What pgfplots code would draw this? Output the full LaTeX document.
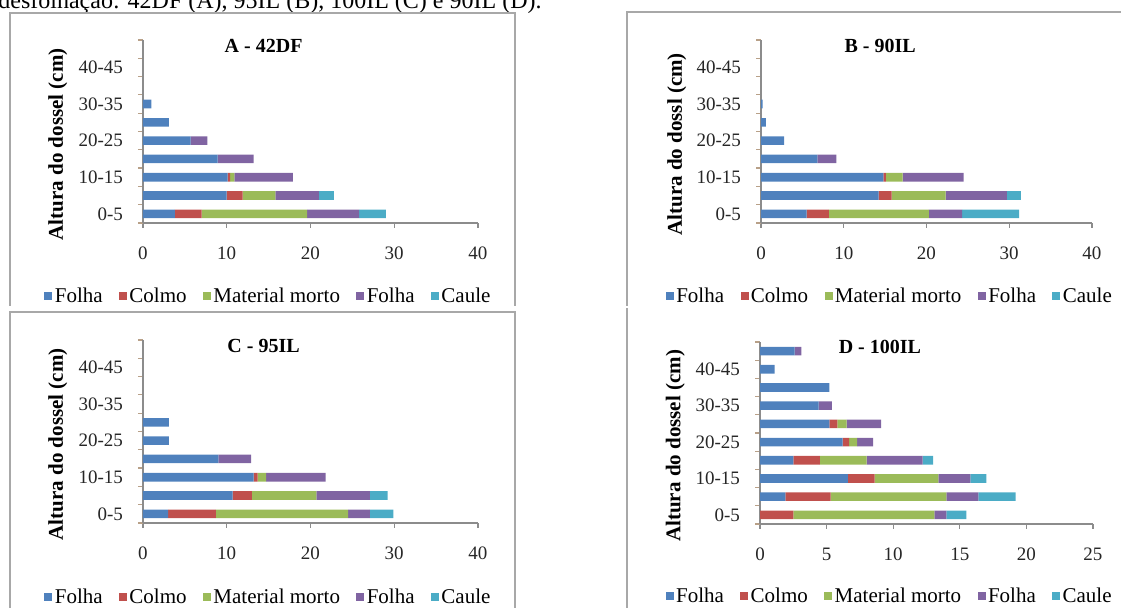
\documentclass[border=0pt]{standalone}
\usepackage{fontspec}
\setmainfont{Liberation Serif}
\usepackage{pgfplots}
\pgfplotsset{compat=1.18}
\usepackage{pgfplotstable}

\definecolor{cF}{HTML}{4F81BD}
\definecolor{cC}{HTML}{C0504D}
\definecolor{cM}{HTML}{9BBB59}
\definecolor{cP}{HTML}{8064A2}
\definecolor{cK}{HTML}{4BACC6}
\definecolor{axgray}{HTML}{8C8C8C}
\definecolor{tickc}{HTML}{B8A088}
\definecolor{framec}{HTML}{A8A8A8}

% y: 0=0-5, 1=5-10, ..., 9=45-50
\pgfplotstableread{
y f c m p k
0 3.8 3.2 12.6 6.2 3.2
1 10.0 1.9 3.9 5.2 1.8
2 10.1 0.3 0.5 7.0 0
3 8.9 0 0 4.3 0
4 5.7 0 0 2.0 0
5 3.1 0 0 0 0
6 1.0 0 0 0 0
7 0 0 0 0 0
8 0 0 0 0 0
9 0 0 0 0 0
}\dataA

\pgfplotstableread{
y f c m p k
0 5.5 2.7 12.1 4.0 6.9
1 14.2 1.6 6.5 7.4 1.7
2 14.8 0.3 2.0 7.4 0
3 6.8 0 0 2.3 0
4 2.8 0 0 0 0
5 0.6 0 0 0 0
6 0.2 0 0 0 0
7 0 0 0 0 0
8 0 0 0 0 0
9 0 0 0 0 0
}\dataB

\pgfplotstableread{
y f c m p k
0 3.0 5.7 15.8 2.6 2.8
1 10.7 2.3 7.7 6.4 2.1
2 13.2 0.5 1.0 7.1 0
3 9.0 0 0 3.9 0
4 3.1 0 0 0 0
5 3.1 0 0 0 0
6 0 0 0 0 0
7 0 0 0 0 0
8 0 0 0 0 0
9 0 0 0 0 0
}\dataC

\pgfplotstableread{
y f c m p k
0 0 2.5 10.6 0.9 1.5
1 1.9 3.4 8.7 2.4 2.8
2 6.6 2.0 4.8 2.4 1.2
3 2.5 2.0 3.5 4.2 0.8
4 6.2 0.5 0.6 1.2 0
5 5.2 0.6 0.7 2.6 0
6 4.4 0 0 1.0 0
7 5.2 0 0 0 0
8 1.1 0 0 0 0
9 2.6 0 0 0.5 0
}\dataD

\pgfplotsset{
  panel/.style={
    scale only axis,
    xbar stacked,
    bar width=4.3pt,
    height=91.5pt,
    ymin=-0.5, ymax=9.5, xmin=0,
    axis x line*=bottom, axis y line*=left,
    axis line style={draw=axgray, line width=0.7pt},
    ytick={0,2,4,6,8},
    yticklabels={0-5,10-15,20-25,30-35,40-45},
    minor ytick={-0.5,0.5,...,9.5},
    major y tick style={draw=none},
    minor y tick style={draw=tickc, line width=0.6pt},
    major x tick style={draw=axgray, line width=0.6pt},
    tick align=outside,
    major tick length=2.5pt,
    minor tick length=2.5pt,
    /pgf/number format/assume math mode=true,
    ticklabel style={font=\fontsize{9.5}{11}\selectfont, text=black!85},
    yticklabel style={xshift=-4pt},
    xticklabel style={yshift=-6pt},
    ylabel style={at={(axis description cs:-0.254,0.43)}, anchor=center,
      font=\bfseries\fontsize{10.5}{12}\selectfont},
    every axis title shift=0pt,
    title style={at={(axis description cs:0.36,0.97)}, anchor=center,
      font=\bfseries\fontsize{10}{12}\selectfont},
    legend style={draw=none, fill=none, legend columns=-1, anchor=center,
      font=\fontsize{10.5}{12}\selectfont,
      /tikz/every even column/.append style={column sep=7pt},
      nodes={inner sep=1.2pt}},
    legend image code/.code={\fill[##1] (0pt,-1.4pt) rectangle (4pt,2.6pt);},
  },
}

\newcommand{\bars}[1]{%
  \addplot[fill=cF, draw=none] table[x=f,y=y]{#1};
  \addplot[fill=cC, draw=none] table[x=c,y=y]{#1};
  \addplot[fill=cM, draw=none] table[x=m,y=y]{#1};
  \addplot[fill=cP, draw=none] table[x=p,y=y]{#1};
  \addplot[fill=cK, draw=none] table[x=k,y=y]{#1};
  \legend{Folha,Colmo,Material morto,Folha,Caule}
}

\begin{document}
\begin{tikzpicture}
\useasboundingbox (0,0) rectangle (560.5pt,304pt);
\clip (0,0) rectangle (560.5pt,304pt);

% cut-off caption line at top
\node[anchor=base west, inner sep=0pt, font=\fontsize{12}{14}\selectfont] at (-1pt,299.5pt)
  {desfolhação: 42DF (A), 95IL (B), 100IL (C) e 90IL (D).};

% frames
\begin{scope}[line width=1pt, draw=framec]
  \draw (5pt,151pt) -- (5pt,297.5pt) -- (257.5pt,297.5pt) -- (257.5pt,151pt);
  \draw (5pt,-2pt) -- (5pt,148pt) -- (257.5pt,148pt) -- (257.5pt,-2pt);
  \draw (313.5pt,151pt) -- (313.5pt,298pt) -- (562pt,298pt);
  \draw (313.5pt,-2pt) -- (313.5pt,150pt);
\end{scope}

% Panel A
\begin{axis}[panel, at={(71.5pt,192.5pt)}, anchor=south west,
  width=167.5pt, xmax=40, xtick={0,10,20,30,40},
  title={A - 42DF}, ylabel={Altura do dossel (cm)},
  legend style={at={(axis description cs:0.375,-0.404)}}]
  \bars{\dataA}
\end{axis}

% Panel B
\begin{axis}[panel, at={(380.5pt,192.5pt)}, anchor=south west,
  width=165.5pt, xmax=40, xtick={0,10,20,30,40},
  title={B - 90IL}, ylabel={Altura do dossl (cm)},
  legend style={at={(axis description cs:0.39,-0.404)}}]
  \bars{\dataB}
\end{axis}

% Panel C
\begin{axis}[panel, at={(71.5pt,42.5pt)}, anchor=south west,
  width=167.5pt, xmax=40, xtick={0,10,20,30,40},
  title={C - 95IL}, ylabel={Altura do dossel (cm)},
  legend style={at={(axis description cs:0.375,-0.41)}}]
  \bars{\dataC}
\end{axis}

% Panel D
\begin{axis}[panel, at={(380pt,42pt)}, anchor=south west,
  width=166.5pt, height=91pt, xmax=25, xtick={0,5,10,15,20,25},
  title={D - 100IL}, ylabel={Altura do dossel (cm)},
  legend style={at={(axis description cs:0.39,-0.40)}}]
  \bars{\dataD}
\end{axis}
\end{tikzpicture}
\end{document}
